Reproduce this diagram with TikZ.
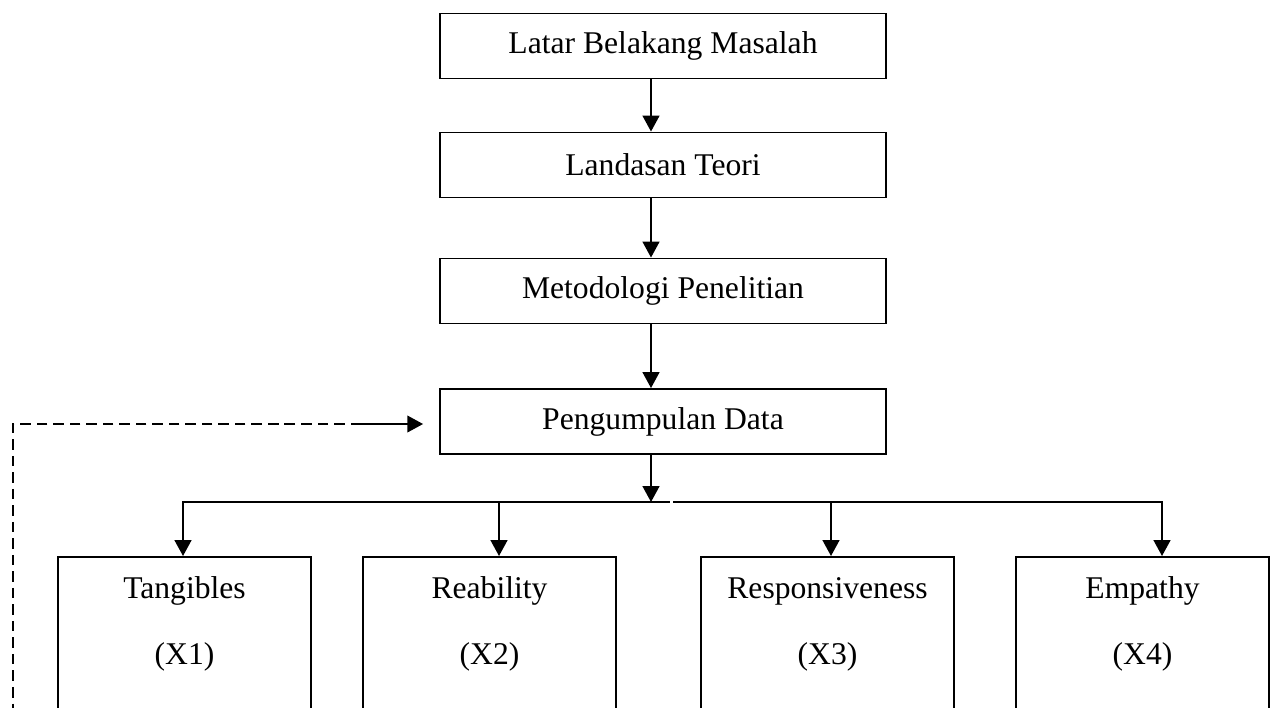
\documentclass[tikz,border=0pt]{standalone}
\usepackage{fontspec}
\setmainfont{Liberation Serif}
\usetikzlibrary{arrows.meta}

\begin{document}
\begin{tikzpicture}[x=0.02cm,y=-0.02cm,
    stage/.style={draw,line width=1.1pt,minimum width=8.92cm,minimum height=1.3cm,
                  font=\fontsize{18}{22}\selectfont,inner sep=0pt},
    factor/.style={draw,line width=0.9pt,minimum width=5.06cm,minimum height=5cm,
                   anchor=north},
    flabel/.style={align=center,inner sep=0pt,anchor=north,
                   font=\fontsize{18}{37.6}\selectfont},
    arr/.style={line width=1.1pt,-{Triangle[length=9pt,width=9.5pt]}},
    bus/.style={line width=1.1pt,line cap=rect},
    feedback/.style={line width=1.3pt,dash pattern=on 6pt off 3.4pt}]
  \useasboundingbox (0,0) rectangle (1270,707);
  \clip (0,0) rectangle (1270,707);
  % tahapan utama penelitian
  \foreach \i/\cy/\txt in {1/46/Latar Belakang Masalah, 2/165/Landasan Teori,
      3/291/Metodologi Penelitian, 4/421.5/Pengumpulan Data}
    \node[stage] (p\i) at (663,\cy) {\txt};
  \coordinate (spine) at (651,0);
  \foreach \i/\j in {1/2,2/3,3/4}
    \draw[arr] (p\i.south -| spine) -- (p\j.north -| spine);
  \coordinate (hub) at (651,502);
  \draw[arr] (p4.south -| spine) -- (hub);
  % variabel X1..X4
  \foreach \i/\cx/\ax/\lbl in {1/184.5/183/Tangibles, 2/489.5/499/Reability,
      3/827.5/831/Responsiveness, 4/1142.5/1162/Empathy}{
    \node[factor] (f\i) at (\cx,556) {};
    \node[flabel] (n\i) at (\cx,576) {\lbl\vphantom{Tl}\\(X\i)};
    \coordinate (d\i) at (\ax,502);
    \draw[arr] (d\i) -- (f\i.north -| d\i);
  }
  \coordinate (gapL) at (669,502);
  \coordinate (gapR) at (674,502);
  \draw[bus] (d1) -- (gapL);
  \draw[bus] (gapR) -- (d4);
  % umpan balik
  \coordinate (fbstart) at (13,720);
  \coordinate (fbmid) at ([xshift=-1.56cm,yshift=-0.05cm]p4.west);
  \coordinate (fbend) at ([xshift=-0.32cm,yshift=-0.05cm]p4.west);
  \draw[feedback] (fbmid) -| (fbstart);
  \draw[arr] (fbmid) -- (fbend);
\end{tikzpicture}
\end{document}
